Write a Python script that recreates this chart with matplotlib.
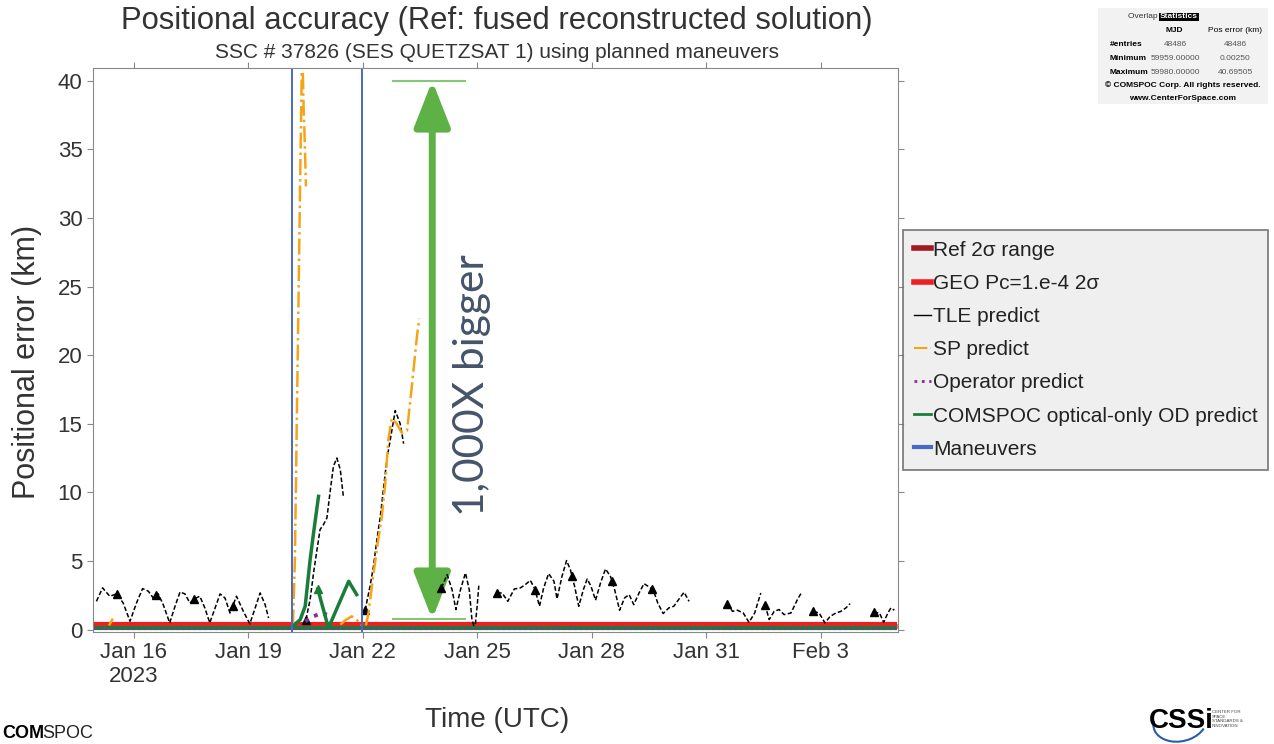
import datetime as dt
import matplotlib
matplotlib.use("Agg")
import matplotlib.pyplot as plt
import matplotlib.dates as mdates
from matplotlib.lines import Line2D
from matplotlib.patches import FancyArrowPatch, Rectangle, Arc

plt.rcParams['font.family'] = ['Liberation Sans', 'DejaVu Sans']

# DATA (time in January-2023 days, error in km)

tle1_t = [15.02, 15.18, 15.37, 15.55, 15.72, 15.90, 16.07, 16.23, 16.38, 16.51, 16.64, 16.77,
          16.94, 17.08, 17.21, 17.34, 17.47, 17.63, 17.73, 17.86, 17.99, 18.13, 18.26, 18.39,
          18.52, 18.69, 18.87, 19.04, 19.18, 19.31, 19.44, 19.53]
tle1_km = [2.06, 3.04, 2.43, 2.60, 1.94, 0.61, 1.94, 2.99, 2.80, 2.30, 2.60, 1.82,
           0.49, 1.70, 2.74, 2.60, 1.94, 2.30, 2.43, 1.58, 0.49, 1.58, 2.60, 2.30,
           1.21, 2.43, 1.33, 0.42, 1.58, 2.67, 1.82, 0.85]
tle2_t = [20.51, 20.62, 20.71, 20.80, 20.88, 20.97, 21.06, 21.14, 21.23, 21.32, 21.41, 21.49]
tle2_km = [0.73, 2.19, 4.13, 5.83, 7.29, 7.65, 8.14, 9.96, 11.9, 12.5, 11.66, 9.71]
tle3_t = [22.06, 22.19, 22.28, 22.37, 22.46, 22.54, 22.63, 22.72, 22.85, 22.98, 23.07]
tle3_km = [1.41, 3.16, 4.61, 6.56, 8.26, 10.2, 12.39, 13.84, 15.96, 15.0, 13.55]
tle4_t = [24.06, 24.21, 24.34, 24.44, 24.56, 24.69, 24.79, 24.86, 24.92]
tle4_km = [3.04, 4.0, 2.91, 1.46, 2.91, 4.13, 2.91, 0.73, 0.2]
tle4b_t = [24.95, 25.0, 25.04]
tle4b_km = [0.4, 1.8, 3.2]
tle5_t = [25.52, 25.65, 25.80, 25.97, 26.13, 26.26, 26.39, 26.51, 26.63, 26.74, 26.87, 27.01,
          27.09, 27.22, 27.34, 27.44, 27.55, 27.66, 27.78, 27.88, 27.98, 28.10, 28.23, 28.36,
          28.49, 28.60, 28.73, 28.86, 28.98, 29.10, 29.24, 29.37, 29.50, 29.61, 29.73, 29.87,
          30.02, 30.15, 30.29, 30.42, 30.55]
tle5_km = [2.67, 2.67, 2.06, 2.96, 3.04, 3.28, 3.59, 2.96, 1.70, 3.04, 4.08, 3.52,
           2.24, 3.88, 5.03, 4.37, 3.16, 1.70, 2.91, 3.69, 3.16, 2.14, 3.40, 4.42,
           3.88, 2.91, 1.41, 2.31, 2.55, 1.82, 2.67, 3.35, 3.11, 2.91, 1.94, 1.17,
           1.58, 1.70, 2.24, 2.72, 2.06]
tle6_t = [31.54, 31.69, 31.82, 31.97, 32.12, 32.27, 32.43]
tle6_km = [1.89, 1.33, 1.41, 1.21, 0.53, 1.21, 2.67]
tle7_t = [32.54, 32.65, 32.78, 32.91, 33.04, 33.22, 33.39, 33.48]
tle7_km = [1.82, 0.73, 1.33, 1.46, 1.09, 1.21, 2.19, 2.62]
tle8_t = [33.81, 33.96, 34.11, 34.25, 34.40, 34.53, 34.66, 34.77]
tle8_km = [1.33, 1.21, 0.49, 0.97, 1.21, 1.33, 1.58, 1.89]
tle9_t = [35.39, 35.54, 35.65, 35.76, 35.84, 35.93]
tle9_km = [1.26, 1.21, 0.53, 1.21, 1.58, 1.41]

tle_epoch_t = [15.55, 16.58, 17.57, 18.59, 20.51, 22.06, 24.06, 25.52, 26.52, 27.49, 28.54,
               29.59, 31.54, 32.54, 33.81, 35.39]
tle_epoch_km = [2.6, 2.55, 2.26, 1.7, 0.73, 1.41, 3.04, 2.67, 2.91, 3.93, 3.52,
                2.96, 1.89, 1.82, 1.33, 1.26]

sp_left_t = [15.35, 15.45]
sp_left_km = [0.3, 0.8]
sp_spike_t = [20.17, 20.22, 20.27, 20.32, 20.37, 20.40, 20.43, 20.45, 20.48, 20.51]
sp_spike_km = [0.3, 5.0, 15.0, 25.0, 35.0, 40.69, 40.5, 38.0, 35.5, 32.3]
sp_bump_t = [21.41, 21.55, 21.71, 21.89, 21.98]
sp_bump_km = [0.36, 0.7, 0.97, 0.6, 0.3]
sp_rise_t = [22.08, 22.15, 22.26, 22.39, 22.50, 22.59, 22.67, 22.76, 22.89, 23.02, 23.16,
             23.29, 23.42, 23.48]
sp_rise_km = [0.3, 1.2, 3.64, 6.3, 8.26, 10.7, 13.84, 15.4, 15.0, 14.35, 14.5,
              17.85, 21.4, 22.66]

op_t = [20.49, 20.71, 20.93, 21.06]
op_km = [0.6, 0.97, 1.21, 1.09]

od1_t = [20.15, 20.36, 20.49, 20.62, 20.71, 20.84]
od1_km = [0.2, 0.73, 1.7, 5.1, 7.05, 9.71]
od2_t = [20.82, 21.10, 21.63, 21.84]
od2_km = [2.96, 0.12, 3.52, 2.55]

span_t = [14.95, 36.0]
ref_km = [0.27, 0.27]
geo_km = [0.38, 0.38]
od_base_km = [0.12, 0.12]
op_base_km = [0.07, 0.07]
sp_base_km = [0.2, 0.2]

maneuver_t = [20.15, 21.98]

tick_days = [16, 19, 22, 25, 28, 31, 34]
tick_labels = ["Jan 16\n2023", "Jan 19", "Jan 22", "Jan 25", "Jan 28", "Jan 31", "Feb 3"]

arrow_t = 23.82
arrow_top_km = 40.0
arrow_bot_km = 0.75
bracket_t = [22.8, 24.69]

stats_rows = [["#entries", "48486", "48486"],
              ["Minimum", "59959.00000", "0.00250"],
              ["Maximum", "59980.00000", "40.69505"]]

# HELPERS
base = mdates.date2num(dt.datetime(2023, 1, 1))


def jan(days):
    return [base + d - 1 for d in days]


# FIGURE
fig = plt.figure(figsize=(12.74, 7.44), dpi=100)
ax = fig.add_axes([0.073, 0.151, 0.632, 0.758])

c_tle = "black"
c_sp = "#f5a418"
c_op = "#8e2a9e"
c_od = "#1b7d3a"
c_man = "#4a68c4"
c_ref = "#a0191e"
c_geo = "#f01e22"

# bottom band
ax.plot(jan(span_t), ref_km, color=c_ref, lw=3.5, solid_capstyle="butt")
ax.plot(jan(span_t), geo_km, color=c_geo, lw=3.0, solid_capstyle="butt")
ax.plot(jan(span_t), sp_base_km, color=c_sp, lw=1.5, ls="-.")
ax.plot(jan(span_t), od_base_km, color=c_od, lw=3.0, solid_capstyle="butt")
ax.plot(jan(span_t), op_base_km, color=c_op, lw=1.5, ls=":")

# TLE
tle_style = dict(color=c_tle, lw=1.1, ls=(0, (3, 1.5)))
for t, k in [(tle1_t, tle1_km), (tle2_t, tle2_km), (tle3_t, tle3_km), (tle4_t, tle4_km),
             (tle4b_t, tle4b_km), (tle5_t, tle5_km), (tle6_t, tle6_km), (tle7_t, tle7_km),
             (tle8_t, tle8_km), (tle9_t, tle9_km)]:
    ax.plot(jan(t), k, **tle_style)
ax.plot(jan(tle_epoch_t), tle_epoch_km, ls="none", marker="^", color="black", ms=5.5)

# SP
sp_style = dict(color=c_sp, lw=1.8, ls="-.")
for t, k in [(sp_left_t, sp_left_km), (sp_spike_t, sp_spike_km), (sp_bump_t, sp_bump_km),
             (sp_rise_t, sp_rise_km)]:
    ax.plot(jan(t), k, **sp_style)

# operator
ax.plot(jan(op_t), op_km, color=c_op, lw=2.8, ls=":")

# COMSPOC optical OD
ax.plot(jan(od1_t), od1_km, color=c_od, lw=2.5)
ax.plot(jan(od2_t), od2_km, color=c_od, lw=2.5)
ax.plot(jan(od2_t[:1]), od2_km[:1], marker="^", color=c_od, ms=5.5)

# maneuvers
for m in jan(maneuver_t):
    ax.axvline(m, color=c_man, lw=1.4)

# annotation
ax.plot(jan(bracket_t), [arrow_top_km] * 2, color="#84c874", lw=1.5)
ax.plot(jan(bracket_t), [arrow_bot_km] * 2, color="#84c874", lw=1.5)
arr = FancyArrowPatch((jan([arrow_t])[0], arrow_bot_km), (jan([arrow_t])[0], arrow_top_km),
                      arrowstyle="<|-|>,head_length=1.4,head_width=0.55",
                      mutation_scale=20, lw=5, color="#5eb245", shrinkA=0, shrinkB=0)
ax.add_patch(arr)
ax.text(jan([24.87])[0], 17.85, "1,000X bigger", rotation=90, ha="center", va="center",
        fontsize=30.5, color="#44546a", family=["Lato", "DejaVu Sans"])

ax.set_xlim(jan([14.93])[0], jan([36.03])[0])
ax.set_ylim(-0.15, 40.95)
ax.set_yticks(range(0, 45, 5))
ax.set_xticks(jan(tick_days))
ax.set_xticklabels(tick_labels)
ax.tick_params(direction="out", length=4, color="#888888", labelsize=16, labelcolor="#333333",
               top=True, right=True, labeltop=False, labelright=False)
for s in ax.spines.values():
    s.set_color("#888888")

fig.text(0.39, 0.972, "Positional accuracy (Ref: fused reconstructed solution)",
         ha="center", va="center", fontsize=22.3, color="#333333")
fig.text(0.39, 0.929, "SSC # 37826 (SES QUETZSAT 1) using planned maneuvers",
         ha="center", va="center", fontsize=15, color="#333333")
fig.text(0.39, 0.032, "Time (UTC)", ha="center", va="center", fontsize=20, color="#333333")
fig.text(0.021, 0.514, "Positional error (km)", ha="center", va="center", rotation=90,
         fontsize=22, color="#333333")

# legend
handles = [Line2D([], [], color=c_ref, lw=4),
           Line2D([], [], color=c_geo, lw=4),
           Line2D([], [], color=c_tle, lw=1),
           Line2D([], [], color=c_sp, lw=1.5, ls="-."),
           Line2D([], [], color=c_op, lw=2, ls=":"),
           Line2D([], [], color=c_od, lw=2),
           Line2D([], [], color=c_man, lw=3)]
labels = ["Ref 2σ range", "GEO Pc=1.e-4 2σ", "TLE predict", "SP predict", "Operator predict",
          "COMSPOC optical-only OD predict", "Maneuvers"]
leg = fig.legend(handles, labels, loc="upper left", bbox_to_anchor=(0.709, 0.691),
                 fontsize=15, frameon=True, fancybox=False, facecolor="#ebebeb",
                 edgecolor="#555555", handlelength=0.8, handletextpad=0.1,
                 labelspacing=0.68, borderpad=0.52, borderaxespad=0)
leg.get_frame().set_linewidth(1.2)
for txt in leg.get_texts():
    txt.set_color("#222222")

# stats box
fig.patches.append(Rectangle((1098 / 1274, 1 - 104 / 744), 170 / 1274, 96 / 744,
                             transform=fig.transFigure, facecolor="#f2f2f2", edgecolor="none"))
fig.text(1160 / 1274, 1 - 17 / 744, "Overlap ", ha="right", va="center", fontsize=6, color="#333333")
fig.text(1160 / 1274, 1 - 17 / 744, "Statistics", ha="left", va="center", fontsize=6,
         color="white", fontweight="bold", bbox=dict(facecolor="black", pad=0.5, edgecolor="none"))
fig.text(1174 / 1274, 1 - 30 / 744, "MJD", ha="center", va="center", fontsize=6, fontweight="bold")
fig.text(1235 / 1274, 1 - 30 / 744, "Pos error (km)", ha="center", va="center", fontsize=6)
for i, row in enumerate(stats_rows):
    y = 1 - (44 + 14 * i) / 744
    fig.text(1110 / 1274, y, row[0], ha="left", va="center", fontsize=6, fontweight="bold")
    fig.text(1175 / 1274, y, row[1], ha="center", va="center", fontsize=6, color="#555555")
    fig.text(1235 / 1274, y, row[2], ha="center", va="center", fontsize=6, color="#555555")
fig.text(1183 / 1274, 1 - 85 / 744, "© COMSPOC Corp. All rights reserved.", ha="center",
         va="center", fontsize=6, fontweight="bold")
fig.text(1183 / 1274, 1 - 98 / 744, "www.CenterForSpace.com", ha="center", va="center",
         fontsize=6, fontweight="bold")

# logos
fig.text(2 / 1274, 1 - 733 / 744, "COM", ha="left", va="center", fontsize=13, fontweight="bold")
fig.text(42 / 1274, 1 - 733 / 744, "SPOC", ha="left", va="center", fontsize=13, color="#222222")
fig.text(1181 / 1274, 1 - 721 / 744, "CSSi", ha="center", va="center", fontsize=20,
         fontweight="bold", family=["Liberation Sans Narrow", "Liberation Sans"])
fig.patches.append(Arc((1180 / 1274, 1 - 722 / 744), 52 / 1274, 40 / 744, angle=-15,
                       theta1=190, theta2=350, transform=fig.transFigure, color="#2a5caa", lw=1.5))
fig.text(1212 / 1274, 1 - 719 / 744, "CENTER FOR\nSPACE\nSTANDARDS &\nINNOVATION", ha="left",
         va="center", fontsize=3.2, color="#444444", linespacing=1.3)

fig.savefig("out.png", dpi=100)
